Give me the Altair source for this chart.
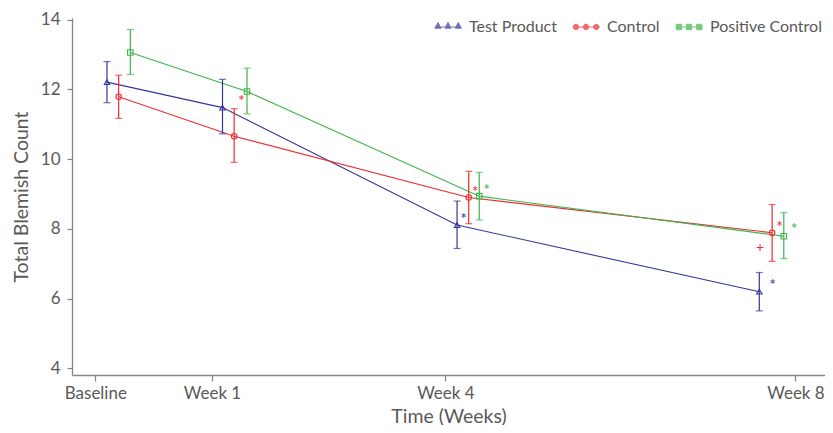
import altair as alt
import pandas as pd

series = ["Test Product", "Control", "Positive Control"]
colors = ["#34379a", "#ee2b2f", "#3db54a"]
point_shapes = ["triangle-up", "circle", "square"]
time_labels = ["Baseline", "Week 1", "Week 4", "Week 8"]
time_pos = [0, 1, 3, 6]

test_x = [0.10, 1.09, 3.10, 5.69]
test_mean = [12.21, 11.48, 8.11, 6.20]
test_hi = [12.80, 12.29, 8.80, 6.75]
test_lo = [11.62, 10.73, 7.44, 5.65]

ctrl_x = [0.20, 1.19, 3.20, 5.80]
ctrl_mean = [11.79, 10.66, 8.90, 7.89]
ctrl_hi = [12.41, 11.45, 9.65, 8.70]
ctrl_lo = [11.17, 9.91, 8.15, 7.07]

pos_x = [0.30, 1.30, 3.29, 5.90]
pos_mean = [13.06, 11.94, 8.94, 7.79]
pos_hi = [13.72, 12.61, 9.62, 8.47]
pos_lo = [12.43, 11.30, 8.26, 7.15]

ann_series = ["Control", "Test Product", "Control", "Positive Control",
              "Control", "Control", "Positive Control", "Test Product"]
ann_text = ["*", "*", "*", "*", "*", "+", "*", "*"]
ann_x = [1.253, 3.156, 3.255, 3.354, 5.864, 5.697, 5.989, 5.804]
ann_y = [11.79, 8.40, 9.18, 9.22, 8.18, 7.45, 8.10, 6.51]

FONT = "Lato"
TXT = "#595959"
AXC = "#858585"

rows = []
for s, xs, m, hi, lo in [
    (series[0], test_x, test_mean, test_hi, test_lo),
    (series[1], ctrl_x, ctrl_mean, ctrl_hi, ctrl_lo),
    (series[2], pos_x, pos_mean, pos_hi, pos_lo),
]:
    for i in range(len(xs)):
        rows.append({"series": s, "t": time_labels[i], "x": xs[i], "mean": m[i], "hi": hi[i], "lo": lo[i]})
df = pd.DataFrame(rows)
ann = pd.DataFrame({"series": ann_series, "text": ann_text, "x": ann_x, "y": ann_y})

# legend symbols: a line with three small open markers
cs = [-0.74, 0.0, 0.76]
def tri_path():
    p = "M-1,0L1,0"
    for c in cs:
        p += f"M{c-0.22:.3f},0.09L{c:.3f},-0.33L{c+0.22:.3f},0.09Z"
    return p
def circ_path():
    r = 0.2
    p = "M-1,0L1,0"
    for c in cs:
        p += f"M{c-r:.3f},0A{r},{r} 0 1,0 {c+r:.3f},0A{r},{r} 0 1,0 {c-r:.3f},0Z"
    return p
def sq_path():
    h = 0.2
    p = "M-1,0L1,0"
    for c in cs:
        p += f"M{c-h:.3f},{-h}L{c+h:.3f},{-h}L{c+h:.3f},{h}L{c-h:.3f},{h}Z"
    return p
legend_paths = [tri_path(), circ_path(), sq_path()]

label_expr = ""
for p, l in zip(time_pos, time_labels):
    label_expr += f"datum.value == {p} ? '{l}' : "
label_expr += "''"

xscale = alt.Scale(domain=[-0.1997, 6.253], nice=False, zero=False)
yscale = alt.Scale(domain=[3.81, 14.05], nice=False, zero=False)
cscale = alt.Scale(domain=series, range=colors)

X = alt.X("x:Q", scale=xscale,
          axis=alt.Axis(values=time_pos, labelExpr=label_expr, title="Time (Weeks)",
                        tickSize=6, labelPadding=4, titlePadding=6))
Y = alt.Y("mean:Q", scale=yscale,
          axis=alt.Axis(values=[4, 6, 8, 10, 12, 14], title="Total Blemish Count",
                        tickSize=5, labelPadding=7, titlePadding=9))
C = alt.Color("series:N", scale=cscale, legend=None)

base = alt.Chart(df)

legend_layer = alt.Chart(df).transform_filter("false").mark_point(
    filled=False, fill="white", strokeWidth=1
).encode(
    x=alt.X("x:Q", scale=xscale),
    y=alt.Y("mean:Q", scale=yscale),
    color=alt.Color("series:N", scale=cscale,
                    legend=alt.Legend(title=None, orient="none", direction="horizontal",
                                      legendX=362, legendY=-5, padding=0,
                                      symbolSize=729, symbolStrokeWidth=1,
                                      symbolFillColor="white",
                                      labelOffset=7, columnPadding=13,
                                      labelFont=FONT, labelFontSize=16, labelColor=TXT)),
    shape=alt.Shape("series:N", scale=alt.Scale(domain=series, range=legend_paths)),
)

lines = base.mark_line(strokeWidth=1.1).encode(x=X, y=Y, color=C, detail="series:N", order="x:Q")
rules = base.mark_rule(strokeWidth=1.2).encode(
    x=alt.X("x:Q", scale=xscale), y=alt.Y("lo:Q", scale=yscale), y2="hi:Q", color=C)
cap_hi = base.mark_tick(orient="horizontal", size=7, thickness=1.2).encode(
    x=alt.X("x:Q", scale=xscale), y=alt.Y("hi:Q", scale=yscale), color=C)
cap_lo = base.mark_tick(orient="horizontal", size=7, thickness=1.2).encode(
    x=alt.X("x:Q", scale=xscale), y=alt.Y("lo:Q", scale=yscale), color=C)

point_layers = []
for s, shp in zip(series, point_shapes):
    point_layers.append(
        base.transform_filter(alt.datum.series == s).mark_point(
            shape=shp, size=30, filled=False, strokeWidth=1.1, opacity=1
        ).encode(x=alt.X("x:Q", scale=xscale), y=alt.Y("mean:Q", scale=yscale), color=C)
    )

stars = alt.Chart(ann).transform_filter(alt.datum.text == "*").mark_text(
    font=FONT, fontSize=16, dy=4, baseline="middle", align="center"
).encode(x=alt.X("x:Q", scale=xscale), y=alt.Y("y:Q", scale=yscale), text="text:N", color=C)
pluses = alt.Chart(ann).transform_filter(alt.datum.text == "+").mark_text(
    font=FONT, fontSize=14, dy=0, baseline="middle", align="center"
).encode(x=alt.X("x:Q", scale=xscale), y=alt.Y("y:Q", scale=yscale), text="text:N", color=C)

chart = alt.layer(
    legend_layer, lines, rules, cap_hi, cap_lo, *point_layers, stars, pluses
).properties(
    width=753, height=357,
    autosize=alt.AutoSizeParams(type="none"),
    padding={"left": 64, "top": 10, "right": 0, "bottom": 50},
).configure_view(stroke=None).configure_axis(
    grid=False, domainColor=AXC, tickColor=AXC, domainWidth=1.3, tickWidth=1.2,
    labelFont=FONT, titleFont=FONT, labelColor=TXT, titleColor=TXT,
    labelFontSize=17, titleFontSize=19.5, titleFontWeight="normal",
)

chart.save("out.html", embed_options={"renderer": "svg", "actions": False})
